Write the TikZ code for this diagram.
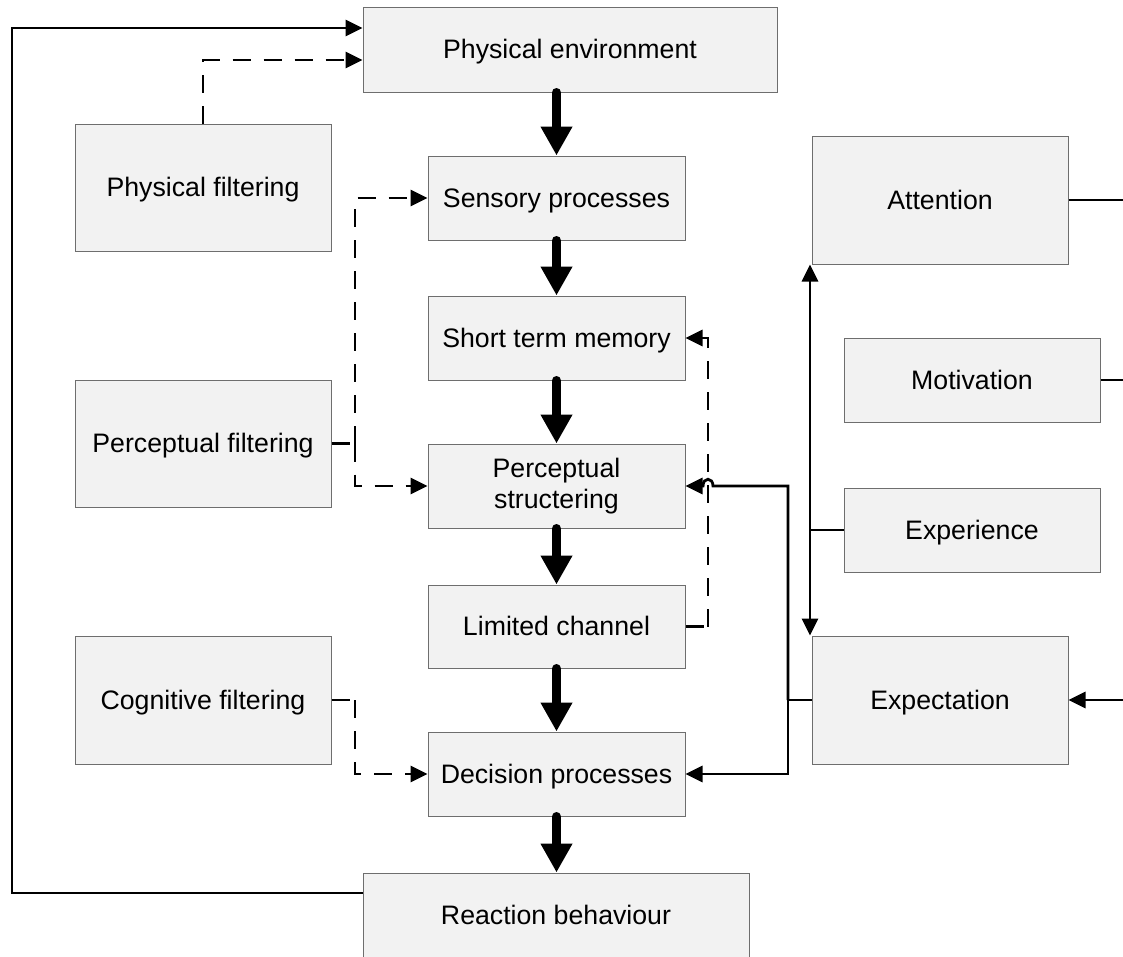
\documentclass[tikz,border=0pt]{standalone}
\usepackage{fontspec}
\setmainfont{Liberation Sans}
\usetikzlibrary{arrows.meta,calc}
\definecolor{boxfill}{HTML}{F2F2F2}
\definecolor{boxborder}{HTML}{6E6E6E}
\begin{document}
\begin{tikzpicture}[x=1pt,y=-1pt,
 box/.style={draw=boxborder,fill=boxfill,line width=1pt,inner sep=0pt,
   font=\fontsize{26.7}{31}\selectfont,align=center,text height=25pt,text depth=6.5pt},
 flow/.style={line width=9pt,line cap=round,-{Triangle[length=29pt,width=30pt]}},
 conn/.style={line width=2.8pt,-{Triangle[length=17pt,width=16pt]}},
 plainline/.style={line width=2.8pt},
 dsh/.style={dash pattern=on 18pt off 13pt}]
\useasboundingbox (0,0) rectangle (1123,956);

% central column
\node[box,minimum width=414pt,minimum height=85pt] (penv) at (570,49.5) {Physical environment};
\node[box,minimum width=257pt,minimum height=84pt] (sens) at (556.5,198) {Sensory processes};
\node[box,minimum width=257pt,minimum height=84pt] (stm) at (556.5,338) {Short term memory};
\node[box,minimum width=257pt,minimum height=84pt,text height={},text depth={}] (pstr) at (556.5,486) {Perceptual\\structering};
\node[box,minimum width=257pt,minimum height=83pt] (lim) at (556.5,626.5) {Limited channel};
\node[box,minimum width=257pt,minimum height=84pt] (dec) at (556.5,774) {Decision processes};
\node[box,minimum width=386pt,minimum height=84pt] (react) at (556,915) {Reaction behaviour};

% left column
\node[box,minimum width=256pt,minimum height=127pt] (pfil) at (203,187.5) {Physical filtering};
\node[box,minimum width=256pt,minimum height=127pt] (percf) at (203,443.5) {Perceptual filtering};
\node[box,minimum width=256pt,minimum height=128pt] (cogf) at (203,700) {Cognitive filtering};

% right column
\node[box,minimum width=256pt,minimum height=128pt] (att) at (940,200) {Attention};
\node[box,minimum width=256pt,minimum height=84pt] (mot) at (972,380) {Motivation};
\node[box,minimum width=256pt,minimum height=84pt] (exp) at (972,530) {Experience};
\node[box,minimum width=256pt,minimum height=128pt] (expc) at (940,700) {Expectation};

% free ends at the right edge
\coordinate (attR) at (1123,200);
\coordinate (motR) at (1123,380);
\coordinate (expcR) at (1123,700);

% main flow
\draw[flow] (sens.north |- penv.south) -- (sens.north);
\draw[flow] (sens.south) -- (stm.north);
\draw[flow] (stm.south) -- (pstr.north);
\draw[flow] (pstr.south) -- (lim.north);
\draw[flow] (lim.south) -- (dec.north);
\draw[flow] (dec.south) -- (dec.south |- react.north);

% feedback loop
\draw[conn] (react.west |- 0,893) -- (12,893) -- (12,28) -- (penv.west |- 0,28);

% filters (dashed)
\draw[conn,dsh] (pfil.north) -- (203,60) -- (penv.west |- 0,60);
\draw[plainline,dsh] (percf.east) -- (355,443.5);
\draw[conn,dsh] (355,443.5) |- (sens.west);
\draw[conn,dsh] (355,443.5) |- (pstr.west);
\draw[plainline,dsh] (cogf.east) -- (355,700);
\draw[conn,dsh] (355,700) |- (dec.west);
\draw[plainline,dsh] (lim.east) -- (708,626.5);
\draw[conn,dsh] (708,626.5) |- (stm.east);

% expectation feedback
\draw[plainline] (expc.west) -- (788,700);
\draw[conn] (788,700) -- (788,486) -- (713,486)
   .. controls (713,477) and (703,477) .. (703,486) -- (pstr.east);
\draw[conn] (788,700) |- (dec.east);

% attention / experience / expectation
\draw[line width=2.8pt,{Triangle[length=17pt,width=16pt]}-{Triangle[length=17pt,width=16pt]}]
  (att.south -| 810,0) -- (expc.north -| 810,0);
\draw[plainline] (exp.west) -- (810,530);

% right edge
\draw[plainline] (att.east) -- (attR);
\draw[plainline] (mot.east) -- (motR);
\draw[conn] (expcR) -- (expc.east);
\end{tikzpicture}
\end{document}
